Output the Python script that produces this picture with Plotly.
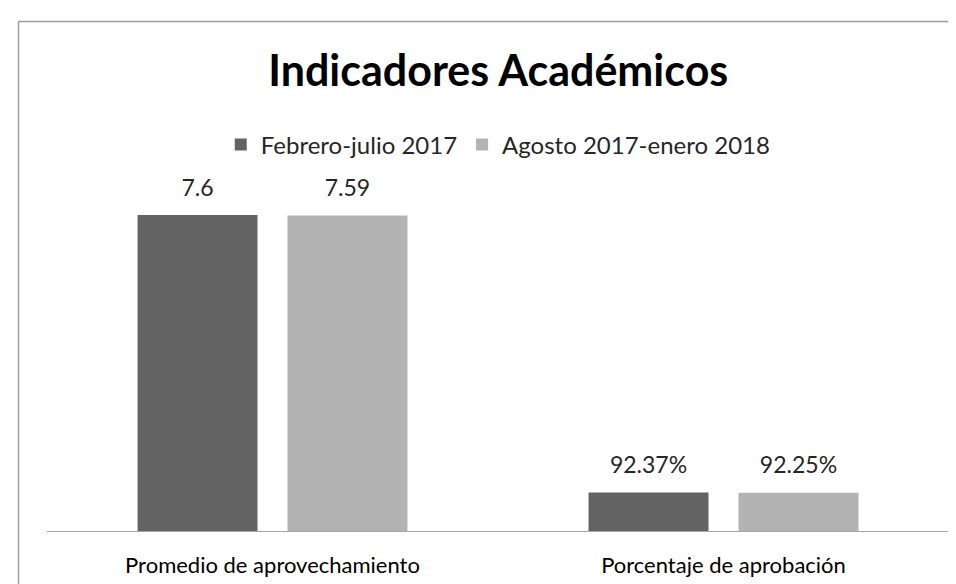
import plotly.graph_objects as go

categories = ["Promedio de aprovechamiento", "Porcentaje de aprobación"]
series_names = ["Febrero-julio 2017", "Agosto 2017-enero 2018"]
febrero_values = [7.6, 0.9237]
agosto_values = [7.59, 0.9225]
febrero_labels = ["7.6", "92.37%"]
agosto_labels = ["7.59", "92.25%"]
colors = ["#636363", "#b3b3b3"]

FONT = "Lato"
W, H = 956, 584
L, R, T, B = 38.5, 15, 190, 61
plot_h = H - T - B
px_per_unit = 41.58
ymax = plot_h / px_per_unit

fig = go.Figure()
for i, (name, vals, col) in enumerate(zip(series_names, [febrero_values, agosto_values], colors)):
    fig.add_trace(go.Bar(
        x=categories, y=vals, name=name, marker=dict(color=col, line=dict(width=0)),
        offsetgroup=str(i), alignmentgroup="a", hoverinfo="skip",
    ))
for i, (vals, labs) in enumerate(zip([febrero_values, agosto_values], [febrero_labels, agosto_labels])):
    fig.add_trace(go.Scatter(
        x=categories, y=vals, text=labs, mode="markers+text", textposition="top center",
        marker=dict(size=20, opacity=0), offsetgroup=str(i), alignmentgroup="a",
        textfont=dict(family=FONT, size=23, color="#262626"),
        cliponaxis=False, showlegend=False, hoverinfo="skip",
    ))

def px_x(p):
    return (p - L) / (W - L - R)

def px_y(p):
    return (H - B - p) / plot_h

fig.update_layout(
    width=W, height=H,
    margin=dict(l=L, r=R, t=T, b=B, pad=0),
    paper_bgcolor="white", plot_bgcolor="white",
    barmode="group", bargap=0.335, bargroupgap=0.2,
    scattermode="group", scattergap=0.335,
    title=dict(text="<b>Indicadores Académicos</b>", x=px_x(490), xref="paper",
               xanchor="center", y=1 - 63 / H, yref="container", yanchor="middle",
               font=dict(family=FONT, size=43, color="#000000")),
    legend=dict(orientation="h", x=px_x(490), xanchor="center", xref="paper",
                y=1 - 137 / H, yref="container", yanchor="middle",
                font=dict(family=FONT, size=24, color="#262626"),
                itemwidth=30, traceorder="normal"),
    xaxis=dict(showline=True, linecolor="#a6a6a6", linewidth=1.2, showgrid=False,
               ticks="", ticklabelstandoff=14,
               tickfont=dict(family=FONT, size=22, color="#000000")),
    yaxis=dict(visible=False, range=[0, ymax], showgrid=False, zeroline=False),
    showlegend=True,
    shapes=[
        dict(type="line", xref="paper", yref="paper", x0=px_x(10), x1=px_x(960),
             y0=px_y(13.5), y1=px_y(13.5), line=dict(color="#9c9c9c", width=1.5)),
        dict(type="line", xref="paper", yref="paper", x0=px_x(10), x1=px_x(10),
             y0=px_y(13.5), y1=px_y(590), line=dict(color="#9c9c9c", width=1.5)),
    ],
)

fig.write_html("out.html")
